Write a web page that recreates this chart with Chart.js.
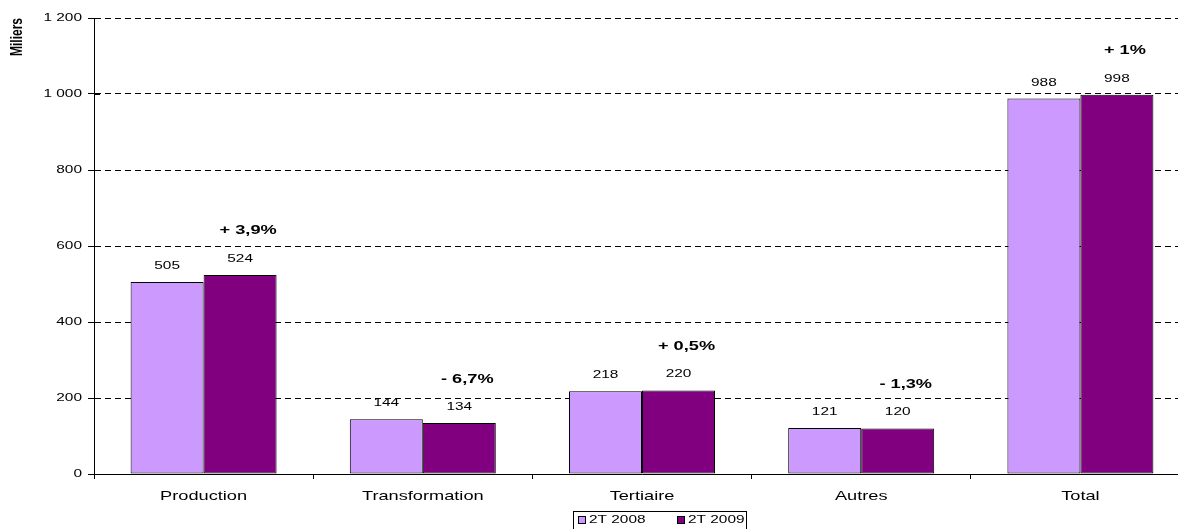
<!DOCTYPE html>
<html>
<head>
<meta charset="utf-8">
<script src="https://cdn.jsdelivr.net/npm/chart.js@4"></script>
<style>
    html, body { margin: 0; padding: 0; background: #fff; overflow: hidden; }
    #wrap { width: 1178px; height: 529px; overflow: hidden; }
</style>
</head>
<body>
<div id="wrap"><canvas id="myChart" width="1192" height="529"></canvas></div>
<script>
const categories = ['Production', 'Transformation', 'Tertiaire', 'Autres', 'Total'];
const valeurs2008 = [505, 144, 218, 121, 988];
const valeurs2009 = [524, 134, 220, 120, 998];
const evolutions = ['+ 3,9%', '- 6,7%', '+ 0,5%', '- 1,3%', '+ 1%'];
const yTicks = [0, 200, 400, 600, 800, 1000, 1200];

const police = '"Liberation Sans", Arial, sans-serif';
// le graphique d'origine est étiré horizontalement, le texte aussi
const etirement = 1.4;

function formatMilliers(v) {
    return String(v).replace(/\B(?=(\d{3})+(?!\d))/g, ' ');
}

let ctx = document.getElementById('myChart').getContext('2d');

// texte étiré horizontalement autour de son point d'ancrage
const fillTextOrig = ctx.fillText;
ctx.fillText = function (text, x, y) {
    let t = this.getTransform();
    let p = t.transformPoint(new DOMPoint(x, y));
    this.save();
    this.setTransform(
        new DOMMatrix().translate(p.x, p.y).scale(etirement, 1).translate(-p.x, -p.y).multiply(t)
    );
    fillTextOrig.call(this, text, x, y);
    this.restore();
};

// étiquettes des barres + évolutions + légende encadrée
const etiquettesPlugin = {
    id: 'etiquettes',
    afterDatasetsDraw(chart) {
        let c = chart.ctx;
        c.save();
        c.fillStyle = '#000';
        c.textAlign = 'center';
        c.textBaseline = 'middle';
        c.font = '11px ' + police;
        chart.data.datasets.forEach(function (ds, i) {
            let meta = chart.getDatasetMeta(i);
            meta.data.forEach(function (bar, j) {
                c.fillText(String(ds.data[j]), bar.x, bar.y - 16);
            });
        });

        // pourcentages au-dessus de la barre 2009
        c.font = 'bold 13px ' + police;
        let meta2 = chart.getDatasetMeta(1);
        meta2.data.forEach(function (bar, j) {
            c.fillText(evolutions[j], bar.x + 8, bar.y - 44);
        });
        c.restore();
    },
    afterDraw(chart) {
        let c = chart.ctx;
        c.save();
        // légende
        let left = 573, top = 511, w = 173, h = 18;
        c.strokeStyle = '#000';
        c.lineWidth = 1;
        c.strokeRect(left + 0.5, top + 0.5, w, h);
        c.font = '11px ' + police;
        c.textBaseline = 'middle';
        c.textAlign = 'left';
        let positions = [578, 677];
        chart.data.datasets.forEach(function (ds, i) {
            let x = positions[i];
            let y = top + 9;
            c.fillStyle = ds.backgroundColor;
            c.fillRect(x, y - 4, 8, 8);
            c.strokeRect(x + 0.5, y - 3.5, 7, 7);
            c.fillStyle = '#000';
            c.fillText(ds.label, x + 11, y);
        });

        // graduations à droite de l'axe vertical
        let ys = chart.scales.y;
        let xa = chart.chartArea.left;
        c.beginPath();
        yTicks.forEach(function (v) {
            let py = Math.round(ys.getPixelForValue(v)) + 0.5;
            c.moveTo(xa, py);
            c.lineTo(xa + 6, py);
        });
        c.stroke();
        c.restore();
    },
};

window.myChart = new Chart(ctx, {
    type: 'bar',
    data: {
        labels: categories,
        datasets: [
            {
                label: '2T 2008',
                data: valeurs2008,
                backgroundColor: '#CC99FF',
                borderColor: '#000',
                borderWidth: 1,
                borderSkipped: false,
            },
            {
                label: '2T 2009',
                data: valeurs2009,
                backgroundColor: '#800080',
                borderColor: '#000',
                borderWidth: 1,
                borderSkipped: false,
            },
        ],
    },
    options: {
        responsive: false,
        animation: false,
        devicePixelRatio: 1,
        datasets: {
            bar: {
                barPercentage: 1,
                categoryPercentage: 0.666,
            },
        },
        layout: {
            padding: { top: 18, right: 2, left: 0, bottom: 0 },
        },
        plugins: {
            legend: { display: false },
            tooltip: { enabled: false },
        },
        scales: {
            x: {
                grid: {
                    offset: true,
                    drawOnChartArea: false,
                    drawTicks: true,
                    tickLength: 5,
                    color: '#000',
                },
                border: { color: '#000', width: 1 },
                ticks: {
                    color: '#000',
                    font: { family: police, size: 13 },
                    padding: 10,
                    autoSkip: false,
                    maxRotation: 0,
                },
                afterFit: function (scale) {
                    scale.height = 55;
                },
            },
            y: {
                min: 0,
                max: 1200,
                afterBuildTicks: function (scale) {
                    scale.ticks = yTicks.map(function (v) { return { value: v }; });
                },
                grid: {
                    color: '#000',
                    tickLength: 6,
                    tickBorderDash: [],
                    drawTicks: true,
                },
                border: { color: '#000', width: 1, dash: [6, 4] },
                ticks: {
                    color: '#000',
                    font: { family: police, size: 11 },
                    padding: 6,
                    callback: function (v) { return formatMilliers(v); },
                },
                title: {
                    display: true,
                    text: 'Miliers',
                    align: 'end',
                    color: '#000',
                    padding: { top: 10, bottom: 0 },
                    font: { family: police, size: 12, weight: 'bold' },
                },
                afterFit: function (scale) {
                    scale.width = 94;
                },
            },
        },
    },
    plugins: [etiquettesPlugin],
});
</script>
</body>
</html>
